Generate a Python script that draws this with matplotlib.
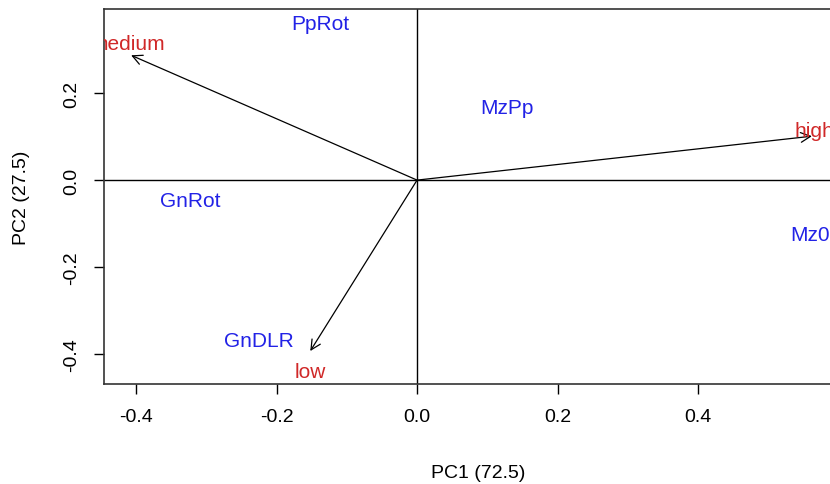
import matplotlib.pyplot as plt

plt.rcParams['font.family'] = ['Liberation Sans', 'DejaVu Sans']

# sample scores (blue labels)
campioni = ['PpRot', 'MzPp', 'GnRot', 'Mz0', 'GnDLR']
pc1_camp = [-0.138, 0.128, -0.323, 0.559, -0.225]
pc2_camp = [0.361, 0.168, -0.046, -0.124, -0.368]

# variable loadings (red arrows)
variabili = ['medium', 'high', 'low']
pc1_var = [-0.407, 0.562, -0.152]
pc2_var = [0.287, 0.101, -0.393]
# label positions for the arrows
pc1_lab = [-0.412, 0.565, -0.152]
pc2_lab = [0.315, 0.113, -0.441]

xticks = [-0.4, -0.2, 0.0, 0.2, 0.4]
yticks = [-0.4, -0.2, 0.0, 0.2]

fig = plt.figure(figsize=(8.3, 4.85), dpi=100)
ax = fig.add_axes([0.1253, 0.206, 0.902, 0.773])
ax.set_xlim(-0.4456, 0.62)
ax.set_ylim(-0.469, 0.393)

ax.axhline(0, color='black', lw=1)
ax.axvline(0, color='black', lw=1)

for x, y in zip(pc1_var, pc2_var):
    ax.annotate('', xy=(x, y), xytext=(0, 0),
                arrowprops=dict(arrowstyle='->,head_length=0.7,head_width=0.35',
                                color='black', lw=0.9, shrinkA=0, shrinkB=0))

for nome, x, y in zip(variabili, pc1_lab, pc2_lab):
    ax.text(x, y, nome, color='#d02828', fontsize=15, ha='center', va='center',
            clip_on=True)

for nome, x, y in zip(campioni, pc1_camp, pc2_camp):
    ax.text(x, y, nome, color='#2222e6', fontsize=15, ha='center', va='center',
            clip_on=True)

ax.set_xticks(xticks)
ax.set_xticklabels(['%.1f' % v for v in xticks])
ax.set_yticks(yticks)
ax.set_yticklabels(['%.1f' % v for v in yticks], rotation=90, va='center')
ax.tick_params(direction='out', length=7, width=1, labelsize=14, pad=10)
for s in ax.spines.values():
    s.set_color('#333333')
    s.set_linewidth(1.2)

ax.set_xlabel('PC1 (72.5)', fontsize=14, labelpad=28)
ax.set_ylabel('PC2 (27.5)', fontsize=14, labelpad=24)

fig.savefig('out.png', dpi=100)
